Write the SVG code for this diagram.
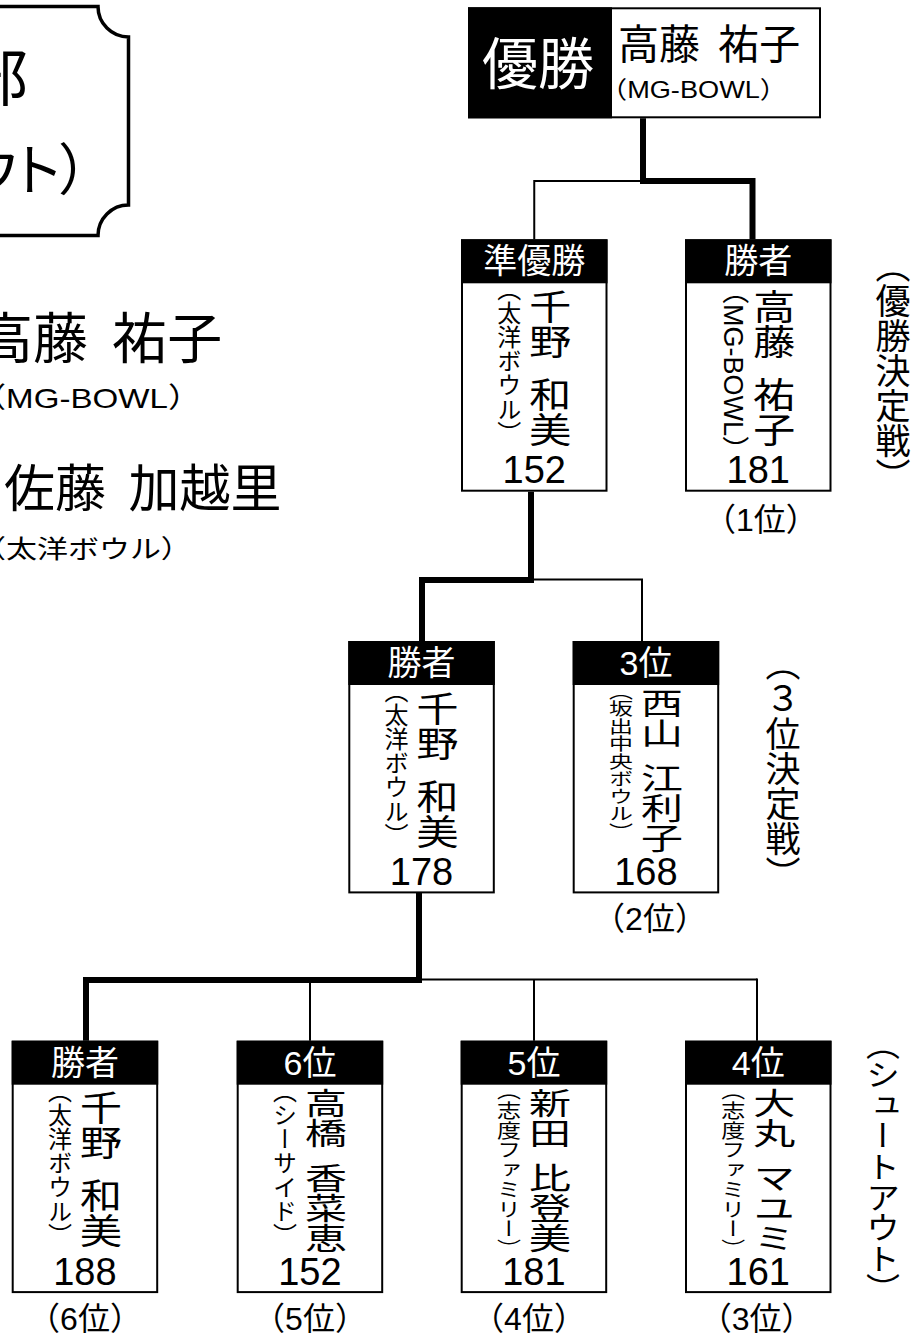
<svg xmlns="http://www.w3.org/2000/svg" width="914" height="1337" viewBox="0 0 914 1337">
<style>
text{fill:#000}
.jp{font-family:"Noto Sans CJK JP","Noto Sans CJK SC",sans-serif}
.la{font-family:"Liberation Sans","Noto Sans CJK JP",sans-serif}
.v{writing-mode:vertical-rl}
.hd{fill:#fff;font-size:34px;text-anchor:middle}
.sc{font-size:38px;text-anchor:middle}
.rk{font-size:32px;text-anchor:middle}
.nm{font-size:42px}
.af{font-size:24px}
.side{font-size:35px}
.box{fill:#fff;stroke:#000;stroke-width:2}
.hdr{fill:#000}
.thick{fill:none;stroke:#000;stroke-width:6;stroke-linejoin:miter}
.thin{fill:none;stroke:#000;stroke-width:2}
</style>
<rect width="914" height="1337" fill="#fff"/>

<g id="title">
<path d="M -10 6.5 H 98 A 30.5 30.5 0 0 0 128.5 37 V 205 A 30.5 30.5 0 0 0 98 235.5 H -10" fill="none" stroke="#000" stroke-width="3.5"/>
<text class="jp" x="28" y="101" font-size="62" text-anchor="end">部</text>
<text class="jp" x="88" y="190" font-size="56" text-anchor="end" style="font-feature-settings:'palt'">（シュートアウト）</text>
</g>

<g id="summary">
<text class="jp" x="-22" y="358" font-size="55">高藤 <tspan dx="12">祐子</tspan></text>
<text class="la" x="-27" y="408" font-size="28" textLength="228" lengthAdjust="spacingAndGlyphs">（MG-BOWL）</text>
<text class="jp" x="4" y="507" font-size="51">佐藤 <tspan dx="11">加越里</tspan></text>
<text class="jp" transform="translate(-25,558) scale(1,0.82)" x="0" y="0" font-size="31">（太洋ボウル）</text>
</g>

<g id="connectors">
<polyline class="thick" points="643,118.3 643,181 752.5,181 752.5,239.3"/>
<polyline class="thin" points="534.25,239.3 534.25,181 643,181"/>
<polyline class="thick" points="531,491.7 531,580 422,580 422,641"/>
<polyline class="thin" points="642,641 642,579.5 531,579.5"/>
<polyline class="thick" points="419,892.3 419,980 86,980 86,1040.7"/>
<polyline class="thin" points="419,979.5 757,979.5"/>
<line class="thin" x1="310" y1="979.5" x2="310" y2="1040.7"/>
<line class="thin" x1="534" y1="979.5" x2="534" y2="1040.7"/>
<line class="thin" x1="757" y1="978.5" x2="757" y2="1040.7"/>
</g>

<g id="champion">
<rect x="469" y="8.3" width="351" height="109" fill="#fff" stroke="#000" stroke-width="2"/>
<rect x="468" y="7.3" width="144" height="111" fill="#000"/>
<text class="jp" x="538" y="84" font-size="56" text-anchor="middle" style="fill:#fff">優勝</text>
<text class="jp" x="618" y="58.8" font-size="41">高藤 <tspan dx="9">祐子</tspan></text>
<text class="la" x="600" y="97.5" font-size="24" textLength="187" lengthAdjust="spacingAndGlyphs">（MG-BOWL）</text>
</g>

<g id="final-runnerup">
<rect class="box" x="462" y="240.3" width="144.5" height="250.4"/>
<rect class="hdr" x="461" y="239.3" width="146.5" height="44"/>
<text class="jp hd" x="534.25" y="273.3">準優勝</text>
<text class="jp v af" x="509.25" y="277.3">（太洋ボウル）</text>
<text class="jp v nm" transform="translate(550.25,289.3) scale(1,0.833)">千野 <tspan dy="12.2">和美</tspan></text>
<text class="la sc" x="534.25" y="483.3">152</text>
</g>

<g id="final-winner">
<rect class="box" x="686" y="240.3" width="144.5" height="250.4"/>
<rect class="hdr" x="685" y="239.3" width="146.5" height="44"/>
<text class="jp hd" x="758.25" y="273.3">勝者</text>
<text class="la v" x="733.25" y="277.1" font-size="27">（MG-BOWL）</text>
<text class="jp v nm" transform="translate(774.25,289.3) scale(1,0.833)">高藤 <tspan dy="12.2">祐子</tspan></text>
<text class="la sc" x="758.25" y="483.3">181</text>
<text class="la rk" x="760.8" y="531">（1位）</text>
</g>

<g id="third-winner">
<rect class="box" x="349.3" y="642" width="144.5" height="250.4"/>
<rect class="hdr" x="348.3" y="641" width="146.5" height="44"/>
<text class="jp hd" x="421.55" y="675">勝者</text>
<text class="jp v af" x="396.55" y="679">（太洋ボウル）</text>
<text class="jp v nm" transform="translate(437.55,691) scale(1,0.833)">千野 <tspan dy="12.2">和美</tspan></text>
<text class="la sc" x="421.55" y="885">178</text>
</g>

<g id="third-place">
<rect class="box" x="573.7" y="642" width="144.5" height="250.4"/>
<rect class="hdr" x="572.7" y="641" width="146.5" height="44"/>
<text class="la hd" x="645.95" y="675">3位</text>
<text class="jp v af" transform="translate(620.95,682.5) scale(1,0.729)">（坂出中央ボウル）</text>
<text class="jp v nm" transform="translate(661.95,688) scale(1,0.712)">西山 <tspan dy="12.2">江利子</tspan></text>
<text class="la sc" x="645.95" y="885">168</text>
<text class="la rk" x="650" y="929.5">（2位）</text>
</g>

<g id="shootout-winner">
<rect class="box" x="12.7" y="1041.7" width="144.5" height="250.4"/>
<rect class="hdr" x="11.7" y="1040.7" width="146.5" height="44"/>
<text class="jp hd" x="84.95" y="1074.7">勝者</text>
<text class="jp v af" x="59.95" y="1078.7">（太洋ボウル）</text>
<text class="jp v nm" transform="translate(100.95,1090.7) scale(1,0.833)">千野 <tspan dy="12.2">和美</tspan></text>
<text class="la sc" x="84.95" y="1284.7">188</text>
<text class="la rk" x="85" y="1329.5">（6位）</text>
</g>

<g id="shootout-6th">
<rect class="box" x="237.7" y="1041.7" width="144.5" height="250.4"/>
<rect class="hdr" x="236.7" y="1040.7" width="146.5" height="44"/>
<text class="la hd" x="309.95" y="1074.7">6位</text>
<text class="jp v af" x="284.95" y="1078.7">（シーサイド）</text>
<text class="jp v nm" transform="translate(325.95,1087.7) scale(1,0.712)">高橋 <tspan dy="12.2">香菜恵</tspan></text>
<text class="la sc" x="309.95" y="1284.7">152</text>
<text class="la rk" x="310" y="1329.5">（5位）</text>
</g>

<g id="shootout-5th">
<rect class="box" x="461.7" y="1041.7" width="144.5" height="250.4"/>
<rect class="hdr" x="460.7" y="1040.7" width="146.5" height="44"/>
<text class="la hd" x="533.95" y="1074.7">5位</text>
<text class="jp v af" transform="translate(508.95,1080.7) scale(1,0.823)">（志度ファミリー）</text>
<text class="jp v nm" transform="translate(549.95,1087.7) scale(1,0.712)">新田 <tspan dy="12.2">比登美</tspan></text>
<text class="la sc" x="533.95" y="1284.7">181</text>
<text class="la rk" x="529" y="1329.5">（4位）</text>
</g>

<g id="shootout-4th">
<rect class="box" x="686" y="1041.7" width="144.5" height="250.4"/>
<rect class="hdr" x="685" y="1040.7" width="146.5" height="44"/>
<text class="la hd" x="758.25" y="1074.7">4位</text>
<text class="jp v af" transform="translate(733.25,1080.7) scale(1,0.823)">（志度ファミリー）</text>
<text class="jp v nm" transform="translate(774.25,1087.7) scale(1,0.712)">大丸 <tspan dy="12.2">マユミ</tspan></text>
<text class="la sc" x="758.25" y="1284.7">161</text>
<text class="la rk" x="756.7" y="1329.5">（3位）</text>
</g>

<g id="side-labels">
<text class="jp v side" x="893" y="248">（優勝決定戦）</text>
<text class="jp v side" x="783" y="646">（３位決定戦）</text>
<text class="jp v" transform="translate(883,1028.6) scale(1,0.9)" font-size="34">（シュートアウト）</text>
</g>
</svg>
